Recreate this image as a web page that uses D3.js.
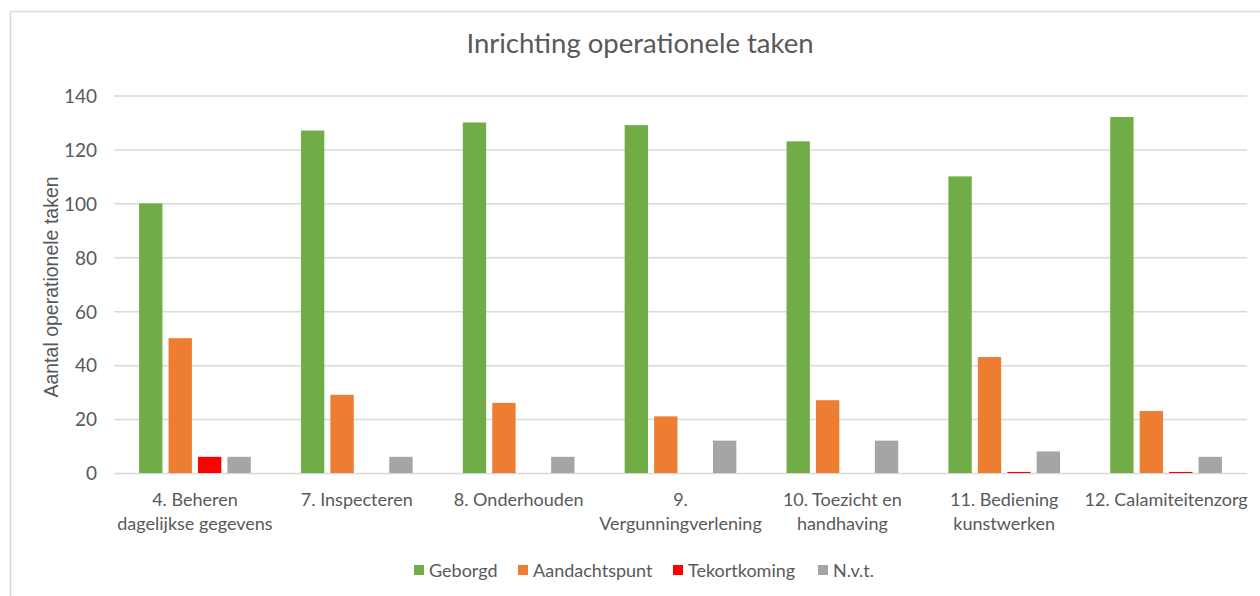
<!DOCTYPE html>
<html><head><meta charset="utf-8">
<script src="https://cdn.jsdelivr.net/npm/d3@7"></script>
<style>
html,body{margin:0;padding:0;background:#fff;}
svg{display:block;}
text{font-family:Lato,"Open Sans",sans-serif;fill:#595959;}
</style></head>
<body>
<svg id="chart" width="1260" height="596"></svg>
<script>
const categories = [
  ["4. Beheren","dagelijkse gegevens"],
  ["7. Inspecteren"],
  ["8. Onderhouden"],
  ["9.","Vergunningverlening"],
  ["10. Toezicht en","handhaving"],
  ["11. Bediening","kunstwerken"],
  ["12. Calamiteitenzorg"]
];
const seriesNames = ["Geborgd","Aandachtspunt","Tekortkoming","N.v.t."];
const geborgd      = [100,127,130,129,123,110,132];
const aandachtspunt= [50,29,26,21,27,43,23];
const tekortkoming = [6,0,0,0,0,0.4,0.4];
const nvt          = [6,6,6,12,12,8,6];
const yTicks = [0,20,40,60,80,100,120,140];
const colors = ["#70ad47","#ed7d31","#ff0000","#a5a5a5"];

const seriesValues = [geborgd,aandachtspunt,tekortkoming,nvt];
const svg = d3.select("#chart");

// border
svg.append("path").attr("d","M10.5,596 L10.5,11.5 L1260,11.5")
  .attr("fill","none").attr("stroke","#d9d9d9").attr("stroke-width",1.5);

const pLeft=114, pRight=1247, pTop=95.5, pBottom=473;
const catKeys = categories.map((c,i)=>i);
const x0 = d3.scaleBand().domain(catKeys).range([pLeft,pRight]).padding(0);
const bw = x0.bandwidth();
const x1 = d3.scaleBand().domain(seriesNames).range([bw*0.155, bw*0.845]).paddingInner(0.207).paddingOuter(0);
const y = d3.scaleLinear().domain([0,140]).range([pBottom,pTop]);

// gridlines
const yAxis = d3.axisLeft(y).tickValues(yTicks).tickSize(-(pRight-pLeft)).tickPadding(17);
const gy = svg.append("g").attr("transform",`translate(${pLeft},0)`).call(yAxis);
gy.select(".domain").remove();
gy.selectAll(".tick line").attr("stroke","#d9d9d9").attr("stroke-width",1.5);
gy.selectAll(".tick text").style("font-family","Lato,sans-serif").style("font-size","19px").attr("fill","#595959").attr("dy","0.36em");

// bars
seriesNames.forEach((s,si)=>{
  svg.append("g").selectAll("rect").data(catKeys).join("rect")
    .attr("x",i=>x0(i)+x1(s))
    .attr("width",x1.bandwidth())
    .attr("y",i=>y(seriesValues[si][i]))
    .attr("height",i=>y(0)-y(seriesValues[si][i]))
    .attr("fill",colors[si]);
});

// x labels
const gx = svg.append("g");
categories.forEach((lines,i)=>{
  const t = gx.append("text").attr("text-anchor","middle")
    .attr("x",x0(i)+bw/2).attr("y",506).style("font-size","18px");
  lines.forEach((ln,j)=>t.append("tspan").attr("x",x0(i)+bw/2).attr("dy",j===0?0:24).text(ln));
});

// title
svg.append("text").attr("x",640).attr("y",53).attr("text-anchor","middle")
  .style("font-size","27.5px").text("Inrichting operationele taken");

// y title
svg.append("text").attr("transform","translate(58,287) rotate(-90)").attr("text-anchor","middle")
  .style("font-family","'Liberation Sans',Arial,sans-serif").style("font-size","19.5px")
  .text("Aantal operationele taken");

// legend
const legX = [414,518,673,818];
const lg = svg.append("g");
seriesNames.forEach((s,i)=>{
  lg.append("rect").attr("x",legX[i]).attr("y",565).attr("width",10).attr("height",10).attr("fill",colors[i]);
  lg.append("text").attr("x",legX[i]+15).attr("y",577).style("font-size","18px").text(s);
});
</script>
</body></html>
